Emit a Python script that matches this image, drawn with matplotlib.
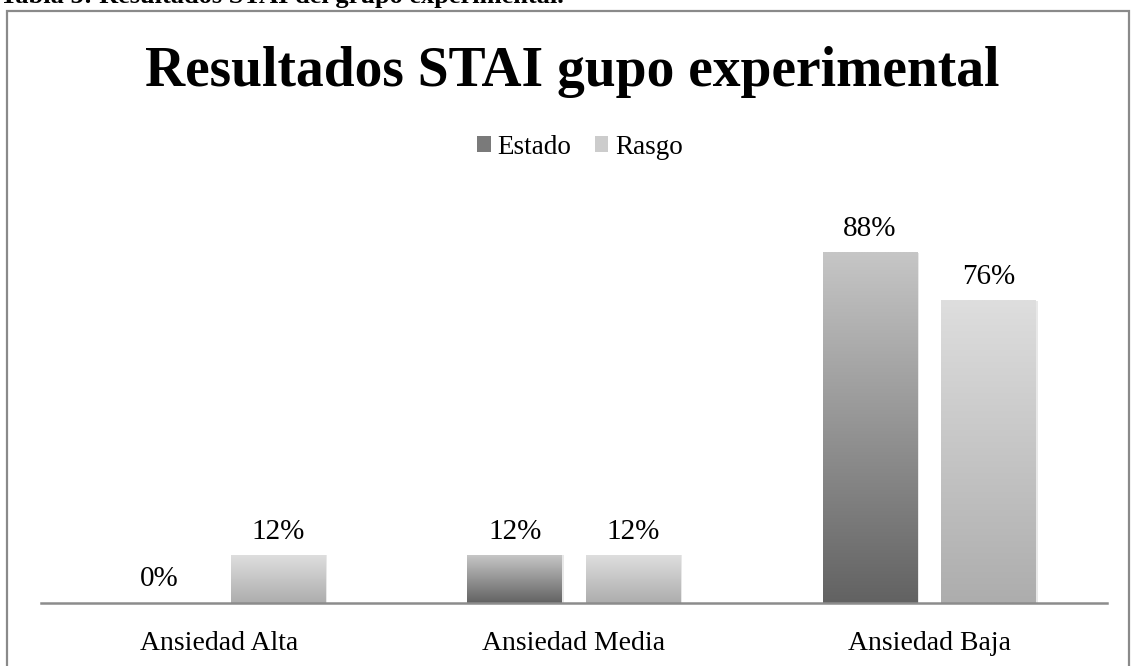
import matplotlib
matplotlib.use("Agg")
import matplotlib.pyplot as plt
import numpy as np
from matplotlib.patches import Rectangle
from matplotlib.colors import LinearSegmentedColormap

categories = ["Ansiedad Alta", "Ansiedad Media", "Ansiedad Baja"]
series_names = ["Estado", "Rasgo"]
estado = [0, 12, 88]
rasgo = [12, 12, 76]
title = "Resultados STAI gupo experimental"
header = "Tabla 5: Resultados STAI del grupo experimental."

W, H = 1131, 666
fig = plt.figure(figsize=(W / 100, H / 100), dpi=100)
fig.patch.set_facecolor("white")

serif = ["Liberation Serif", "DejaVu Serif"]

# frame
fig.patches.append(Rectangle((7 / W, -0.1), (1129 - 7) / W, 0.1 + (H - 11) / H,
                             transform=fig.transFigure, fill=False,
                             edgecolor="#8a8a8a", linewidth=1.6, zorder=0))
# header (cut off at top edge of the picture)
fig.text(0.0, (H - 3) / H, header, family=serif, fontweight="bold", fontsize=19,
         ha="left", va="baseline")

ax = fig.add_axes([41 / W, (H - 603) / H, (1107 - 41) / W, 398 / H])
ax.set_xlim(-0.5, 2.5)
ax.set_ylim(0, 100)
for s in ["top", "right", "left"]:
    ax.spines[s].set_visible(False)
ax.spines["bottom"].set_color("#8c8c8c")
ax.spines["bottom"].set_linewidth(1.8)
ax.set_yticks([])
x = np.arange(len(categories))
ax.set_xticks(x)
ax.set_xticklabels(categories, family=serif, fontsize=20)
ax.tick_params(axis="x", length=0, pad=20)

bw = 0.267
off = 0.167
cm_estado = LinearSegmentedColormap.from_list("e", ["#626262", "#c6c6c6"])
cm_rasgo = LinearSegmentedColormap.from_list("r", ["#adadad", "#dedede"])
grad = np.linspace(0, 1, 256).reshape(-1, 1)

for vals, dx, cmap, name in [(estado, -off, cm_estado, "Estado"),
                             (rasgo, off, cm_rasgo, "Rasgo")]:
    bars = ax.bar(x + dx, vals, bw, color="none", edgecolor="none", label=name)
    for b, v in zip(bars, vals):
        bx, bwid, bh = b.get_x(), b.get_width(), b.get_height()
        if bh > 0:
            ax.add_patch(Rectangle((bx + 0.004, 0), bwid, bh, facecolor="#e8e8e8",
                                   edgecolor="none", zorder=1))
            ax.imshow(grad, extent=(bx, bx + bwid, 0, bh), origin="lower",
                      cmap=cmap, aspect="auto", zorder=2, interpolation="bilinear")
        ax.annotate(f"{v}%", (bx + bwid / 2, bh), xytext=(0, 12),
                    textcoords="offset points", ha="center", va="baseline",
                    family=serif, fontsize=21)

ax.set_xlim(-0.5, 2.5)
ax.set_ylim(0, 100)

# legend
handles = [Rectangle((0, 0), 1, 1, facecolor=c, edgecolor="none")
           for c in ["#7a7a7a", "#cccccc"]]
fig.legend(handles, series_names, loc="center", bbox_to_anchor=(580 / W, (H - 147) / H),
           ncol=2, frameon=False, prop={"family": serif, "size": 19.5},
           handlelength=0.5, handleheight=0.5, handletextpad=0.25, columnspacing=0.85)

fig.text(572 / W, (H - 72) / H, title, family=serif, fontweight="bold", fontsize=40,
         ha="center", va="center")

fig.savefig("out.png", dpi=100)
